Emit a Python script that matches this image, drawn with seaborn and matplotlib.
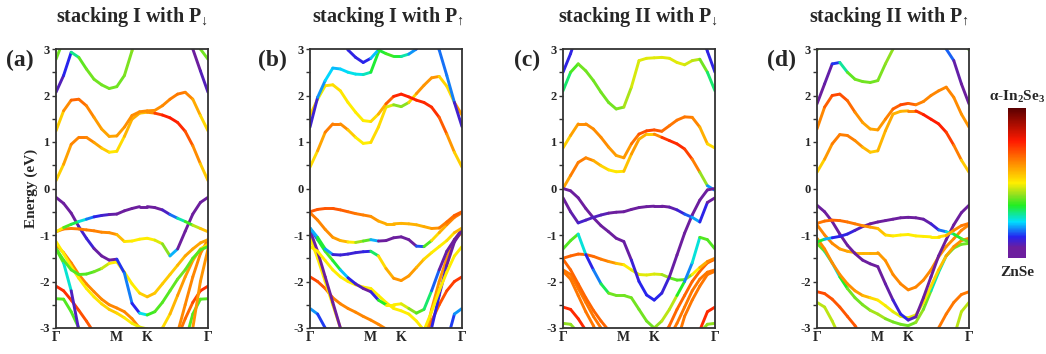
import numpy as np
import matplotlib
matplotlib.use('Agg')
import matplotlib.pyplot as plt
import seaborn as sns
from matplotlib.collections import LineCollection
from matplotlib.colors import LinearSegmentedColormap, Normalize
from matplotlib.cm import ScalarMappable

sns.set_style("ticks")
plt.rcParams.update({
    'font.family': ['Liberation Serif', 'DejaVu Serif'],
    'font.weight': 'bold',
    'mathtext.fontset': 'custom',
    'mathtext.rm': 'Liberation Serif:bold',
    'mathtext.bf': 'Liberation Serif:bold',
    'mathtext.it': 'Liberation Serif:italic',
})

# ── k-path sampling grid and labels ───────────────────────────────────────
K_GRID = [0.0, 0.05, 0.1, 0.15, 0.2, 0.25, 0.3, 0.35, 0.4, 0.45, 0.5,
          0.55, 0.6, 0.65, 0.7, 0.75, 0.8, 0.85, 0.9, 0.95, 1.0]
K_TICKS = [0.0, 0.4, 0.6, 1.0]
K_LABELS = ['Γ', 'M', 'K', 'Γ']
E_TICKS = [-3, -2, -1, 0, 1, 2, 3]
E_LABELS = ['-3', '-2', '-1', '0', '1', '2', '3']

TITLES = [r'stacking I with P$_{↓}$',
          r'stacking I with P$_{↑}$',
          r'stacking II with P$_{↓}$',
          r'stacking II with P$_{↑}$']
PANEL_TAGS = ['(a)', '(b)', '(c)', '(d)']

U, D = 3.6, -3.6   # off-window energies (clipped by the axes)

# ── band energies (eV) and projection weights (0 = ZnSe, 1 = In2Se3) ────
A_E = [
    [0.17, 0.52, 0.95, 1.10, 1.10, 0.99, 0.87, 0.78, 0.80, 1.12, 1.49, 1.62, 1.64, 1.62, 1.58, 1.52, 1.42, 1.23, 0.92, 0.53, 0.17],
    [1.24, 1.67, 1.90, 1.92, 1.78, 1.53, 1.28, 1.12, 1.13, 1.32, 1.57, 1.65, 1.67, 1.68, 1.78, 1.92, 2.03, 2.07, 1.92, 1.57, 1.24],
    [2.07, 2.43, 2.93, 2.82, 2.57, 2.35, 2.23, 2.15, 2.19, 2.43, 2.96, U, U, U, U, U, U, U, 3.0, 2.53, 2.07],
    [2.78, 3.2, U, U, U, U, U, U, U, U, U, U, U, U, U, U, U, U, U, 3.0, 2.78],
    [-2.10, -2.20, -2.40, -2.62, -2.85, -3.10, D, D, D, D, D, D, D, D, D, D, -3.20, -2.80, -2.45, -2.20, -2.10],
    [-2.37, -2.38, -2.65, -3.00, D, D, D, D, D, D, D, D, D, D, D, D, D, -3.30, -2.70, -2.38, -2.37],
    [-1.30, -1.60, -2.20, -3.05, D, D, D, D, D, D, D, D, D, D, D, D, D, D, -3.00, -2.00, -1.30],
    [-1.21, -1.38, -1.60, -1.85, -2.05, -2.22, -2.38, -2.50, -2.57, -2.65, -2.80, -3.00, -3.20, D, D, D, -3.10, -2.50, -1.90, -1.40, -1.10],
    [-1.14, -1.40, -1.68, -1.93, -2.15, -2.33, -2.48, -2.60, -2.68, -2.78, -2.90, -2.98, -3.02, -3.10, -3.00, -2.70, -2.30, -1.90, -1.55, -1.30, -1.20],
    [-1.29, -1.54, -1.75, -1.85, -1.84, -1.79, -1.72, -1.61, -1.58, -1.80, -2.05, -2.25, -2.33, -2.25, -2.05, -1.85, -1.65, -1.45, -1.30, -1.17, -1.10],
    [-0.19, -0.32, -0.53, -0.82, -1.07, -1.29, -1.45, -1.54, -1.52, -1.82, -2.47, -2.68, -2.72, -2.65, -2.45, -2.20, -1.95, -1.75, -1.50, -1.32, -1.25],
    [-0.93, -0.87, -0.86, -0.87, -0.89, -0.91, -0.94, -0.95, -0.99, -1.14, -1.13, -1.09, -1.07, -1.11, -1.19, -1.45, -1.30, -0.92, -0.55, -0.30, -0.19],
    [-0.93, -0.84, -0.77, -0.71, -0.66, -0.61, -0.58, -0.56, -0.55, -0.48, -0.43, -0.39, -0.39, -0.41, -0.46, -0.56, -0.64, -0.71, -0.79, -0.86, -0.93],
]
A_C = [
    [0.5, 0.58, 0.63, 0.65, 0.65, 0.62, 0.58, 0.52, 0.5, 0.55, 0.6, 0.58, 0.55, 0.7, 0.76, 0.78, 0.78, 0.74, 0.66, 0.6, 0.5],
    [0.5, 0.58, 0.68, 0.68, 0.66, 0.62, 0.6, 0.6, 0.6, 0.62, 0.63, 0.63, 0.63, 0.62, 0.63, 0.64, 0.66, 0.66, 0.62, 0.56, 0.5],
    [0.13, 0.06, 0.22, 0.38, 0.4, 0.4, 0.4, 0.4, 0.4, 0.4, 0.42, 0.42, 0.42, 0.4, 0.3, 0.2, 0.1, 0.06, 0.05, 0.06, 0.13],
    0.4,
    [0.76, 0.76, 0.74, 0.72, 0.7, 0.7, 0.7, 0.7, 0.7, 0.7, 0.7, 0.7, 0.7, 0.7, 0.7, 0.7, 0.66, 0.66, 0.7, 0.74, 0.76],
    0.38,
    [0.38, 0.38, 0.15, 0.05, 0.05, 0.05, 0.05, 0.05, 0.05, 0.05, 0.05, 0.05, 0.05, 0.05, 0.05, 0.62, 0.62, 0.62, 0.62, 0.62, 0.62],
    0.64,
    [0.5, 0.5, 0.5, 0.5, 0.5, 0.5, 0.52, 0.55, 0.55, 0.5, 0.5, 0.48, 0.48, 0.48, 0.5, 0.55, 0.6, 0.62, 0.6, 0.55, 0.5],
    [0.38, 0.38, 0.38, 0.38, 0.38, 0.38, 0.42, 0.5, 0.5, 0.5, 0.5, 0.5, 0.58, 0.55, 0.55, 0.55, 0.55, 0.6, 0.6, 0.6, 0.6],
    [0.03, 0.03, 0.04, 0.08, 0.14, 0.1, 0.05, 0.04, 0.05, 0.25, 0.13, 0.15, 0.35, 0.38, 0.38, 0.38, 0.4, 0.4, 0.38, 0.38, 0.38],
    [0.65, 0.65, 0.65, 0.65, 0.65, 0.65, 0.64, 0.63, 0.62, 0.52, 0.5, 0.5, 0.5, 0.5, 0.45, 0.38, 0.05, 0.03, 0.03, 0.03, 0.03],
    [0.62, 0.4, 0.36, 0.3, 0.22, 0.15, 0.12, 0.1, 0.06, 0.04, 0.04, 0.04, 0.04, 0.05, 0.08, 0.13, 0.23, 0.34, 0.4, 0.5, 0.62],
]

B_E = [
    [0.46, 0.81, 1.21, 1.39, 1.39, 1.26, 1.10, 0.97, 0.99, 1.32, 1.75, 1.80, 1.76, 1.85, 2.04, 2.22, 2.38, 2.41, 2.20, 1.85, 1.58],
    [1.57, 1.92, 2.21, 2.23, 2.10, 1.85, 1.64, 1.46, 1.44, 1.60, 1.82, 1.98, 2.03, 1.97, 1.90, 1.85, 1.75, 1.53, 1.17, 0.78, 0.46],
    [1.32, 1.96, 2.32, 2.59, 2.57, 2.50, 2.46, 2.45, 2.50, 2.93, 3.30, U, U, U, U, U, U, 2.98, 2.43, 1.85, 1.33],
    [U, U, U, U, 3.4, 2.98, 2.82, 2.71, 2.80, 2.98, 2.90, 2.84, 2.84, 2.89, 3.0, 3.4, U, U, U, U, U],
    [-2.58, -2.70, -3.00, -3.30, D, D, D, D, D, D, D, D, D, D, D, D, D, D, -3.30, -2.70, -2.58],
    [-1.90, -2.00, -2.15, -2.35, -2.48, -2.58, -2.66, -2.75, -2.83, -2.92, -3.02, -3.20, D, D, D, -3.20, -2.85, -2.50, -2.20, -2.00, -1.90],
    [-1.05, -1.50, -2.00, -2.50, -3.00, D, D, D, D, D, D, D, D, D, D, -3.30, -2.60, -2.00, -1.50, -1.10, -0.95],
    [-0.90, -1.35, -1.90, -2.45, -3.00, D, D, D, D, D, D, D, D, D, D, D, -3.00, -2.30, -1.65, -1.15, -0.90],
    [-1.25, -1.35, -1.55, -1.75, -1.90, -2.00, -2.07, -2.12, -2.15, -2.30, -2.45, -2.58, -2.63, -2.70, -2.85, -3.05, -2.65, -2.20, -1.80, -1.45, -1.25],
    [-0.85, -1.10, -1.35, -1.55, -1.75, -1.92, -2.05, -2.15, -2.22, -2.40, -2.50, -2.50, -2.48, -2.58, -2.68, -2.60, -2.20, -1.75, -1.35, -1.10, -0.88],
    [-0.85, -1.05, -1.30, -1.42, -1.43, -1.41, -1.38, -1.36, -1.35, -1.45, -1.72, -1.93, -1.98, -1.88, -1.70, -1.52, -1.38, -1.25, -1.12, -0.95, -0.85],
    [-0.52, -0.68, -0.88, -1.05, -1.12, -1.15, -1.16, -1.13, -1.10, -1.13, -1.12, -1.06, -1.04, -1.10, -1.24, -1.25, -1.12, -0.95, -0.78, -0.62, -0.52],
    [-0.50, -0.45, -0.43, -0.43, -0.46, -0.50, -0.54, -0.57, -0.60, -0.70, -0.76, -0.76, -0.75, -0.76, -0.78, -0.82, -0.86, -0.85, -0.72, -0.58, -0.50],
]
B_C = [
    [0.5, 0.55, 0.65, 0.65, 0.65, 0.6, 0.5, 0.5, 0.5, 0.55, 0.5, 0.45, 0.38, 0.45, 0.62, 0.62, 0.62, 0.62, 0.45, 0.6, 0.62],
    [0.62, 0.45, 0.52, 0.52, 0.52, 0.5, 0.5, 0.5, 0.5, 0.55, 0.62, 0.76, 0.77, 0.77, 0.77, 0.76, 0.76, 0.74, 0.65, 0.58, 0.5],
    [0.08, 0.15, 0.25, 0.22, 0.22, 0.25, 0.25, 0.25, 0.3, 0.38, 0.38, 0.38, 0.38, 0.38, 0.3, 0.15, 0.13, 0.12, 0.24, 0.14, 0.08],
    [0.13, 0.13, 0.13, 0.13, 0.13, 0.13, 0.13, 0.13, 0.15, 0.3, 0.38, 0.36, 0.32, 0.25, 0.15, 0.13, 0.13, 0.13, 0.13, 0.13, 0.13],
    [0.22, 0.18, 0.13, 0.13, 0.13, 0.13, 0.13, 0.13, 0.13, 0.13, 0.13, 0.13, 0.13, 0.13, 0.13, 0.13, 0.13, 0.13, 0.13, 0.18, 0.22],
    [0.74, 0.72, 0.68, 0.66, 0.64, 0.64, 0.64, 0.64, 0.64, 0.64, 0.64, 0.64, 0.64, 0.64, 0.64, 0.66, 0.68, 0.7, 0.72, 0.74, 0.74],
    [0.5, 0.5, 0.5, 0.5, 0.5, 0.5, 0.5, 0.5, 0.5, 0.5, 0.5, 0.5, 0.5, 0.5, 0.5, 0.62, 0.62, 0.62, 0.62, 0.62, 0.62],
    [0.05, 0.05, 0.05, 0.05, 0.05, 0.05, 0.05, 0.05, 0.05, 0.05, 0.05, 0.05, 0.05, 0.05, 0.05, 0.13, 0.13, 0.13, 0.08, 0.05, 0.05],
    0.5,
    [0.05, 0.3, 0.38, 0.38, 0.3, 0.15, 0.12, 0.08, 0.05, 0.2, 0.5, 0.5, 0.5, 0.45, 0.38, 0.38, 0.25, 0.1, 0.05, 0.05, 0.05],
    [0.05, 0.38, 0.3, 0.12, 0.12, 0.12, 0.12, 0.12, 0.14, 0.5, 0.55, 0.62, 0.62, 0.62, 0.6, 0.55, 0.5, 0.5, 0.5, 0.55, 0.6],
    [0.68, 0.64, 0.64, 0.62, 0.6, 0.55, 0.46, 0.4, 0.38, 0.05, 0.04, 0.04, 0.04, 0.05, 0.08, 0.25, 0.5, 0.55, 0.62, 0.65, 0.66],
    [0.7, 0.7, 0.7, 0.7, 0.7, 0.68, 0.66, 0.65, 0.64, 0.6, 0.58, 0.58, 0.58, 0.58, 0.58, 0.58, 0.6, 0.64, 0.66, 0.68, 0.7],
]

C_E = [
    [0.00, 0.28, 0.56, 0.66, 0.60, 0.49, 0.40, 0.36, 0.37, 0.74, 1.06, 1.17, 1.17, 1.10, 1.03, 0.96, 0.85, 0.63, 0.35, 0.06, -0.04],
    [0.87, 1.14, 1.39, 1.39, 1.28, 1.10, 0.89, 0.71, 0.66, 0.96, 1.17, 1.24, 1.26, 1.23, 1.35, 1.47, 1.54, 1.53, 1.32, 0.96, 0.87],
    [2.10, 2.50, 2.68, 2.53, 2.32, 2.07, 1.85, 1.71, 1.75, 2.18, 2.75, 2.80, 2.81, 2.82, 2.80, 2.71, 2.66, 2.75, 2.78, 2.50, 2.10],
    [2.50, 2.90, 3.40, U, U, U, U, U, U, U, U, U, U, U, U, U, U, U, 3.40, 2.95, 2.50],
    [-2.90, -2.92, -3.10, D, D, D, D, D, D, D, D, D, D, D, D, D, D, D, -3.10, -2.92, -2.90],
    [-2.55, -2.60, -2.80, -3.05, D, D, D, D, D, D, D, D, D, D, D, D, D, D, -3.05, -2.65, -2.55],
    [-1.78, -1.95, -2.30, -2.65, -2.95, -3.30, D, D, D, D, D, D, D, D, D, -3.30, -2.75, -2.40, -2.10, -1.85, -1.78],
    [-1.75, -1.85, -2.15, -2.45, -2.75, -3.00, -3.30, D, D, D, D, D, D, D, -3.20, -2.90, -2.55, -2.20, -1.95, -1.80, -1.75],
    [-1.52, -1.75, -2.05, -2.35, -2.62, -2.85, -3.05, D, D, D, D, D, D, -3.20, -2.95, -2.60, -2.30, -2.00, -1.78, -1.60, -1.52],
    [-1.50, -1.45, -1.41, -1.42, -1.46, -1.52, -1.57, -1.61, -1.64, -1.75, -1.85, -1.86, -1.84, -1.85, -1.92, -1.97, -1.96, -1.85, -1.70, -1.57, -1.50],
    [-1.30, -1.12, -0.98, -1.42, -1.75, -2.05, -2.25, -2.30, -2.30, -2.35, -2.60, -2.85, -3.00, -2.85, -2.60, -2.30, -2.00, -1.60, -1.05, -1.10, -1.30],
    [0.00, -0.05, -0.20, -0.43, -0.63, -0.80, -0.93, -1.07, -1.14, -1.54, -2.00, -2.29, -2.40, -2.25, -1.90, -1.43, -0.96, -0.57, -0.25, -0.03, 0.00],
    [-0.20, -0.50, -0.74, -0.68, -0.62, -0.57, -0.53, -0.51, -0.50, -0.45, -0.41, -0.39, -0.38, -0.38, -0.40, -0.46, -0.55, -0.62, -0.72, -0.30, -0.20],
]
C_C = [
    [0.55, 0.65, 0.65, 0.65, 0.62, 0.55, 0.52, 0.5, 0.52, 0.6, 0.62, 0.55, 0.55, 0.72, 0.76, 0.76, 0.76, 0.7, 0.6, 0.25, 0.15],
    [0.5, 0.58, 0.63, 0.63, 0.63, 0.63, 0.63, 0.6, 0.6, 0.63, 0.7, 0.72, 0.72, 0.68, 0.66, 0.66, 0.66, 0.66, 0.62, 0.55, 0.5],
    [0.28, 0.35, 0.4, 0.4, 0.4, 0.4, 0.4, 0.4, 0.42, 0.46, 0.48, 0.48, 0.48, 0.48, 0.48, 0.48, 0.48, 0.45, 0.45, 0.35, 0.28],
    0.13,
    0.42,
    0.76,
    0.66,
    0.66,
    0.68,
    [0.68, 0.68, 0.68, 0.68, 0.68, 0.66, 0.64, 0.6, 0.52, 0.48, 0.48, 0.48, 0.48, 0.46, 0.4, 0.38, 0.38, 0.45, 0.55, 0.62, 0.66],
    [0.38, 0.38, 0.38, 0.14, 0.13, 0.25, 0.4, 0.4, 0.4, 0.4, 0.4, 0.4, 0.4, 0.45, 0.45, 0.45, 0.25, 0.14, 0.38, 0.38, 0.38],
    [0.04, 0.04, 0.04, 0.04, 0.04, 0.04, 0.04, 0.04, 0.05, 0.1, 0.14, 0.14, 0.14, 0.14, 0.1, 0.05, 0.04, 0.04, 0.04, 0.04, 0.04],
    [0.05, 0.05, 0.12, 0.1, 0.1, 0.1, 0.08, 0.06, 0.05, 0.05, 0.05, 0.05, 0.05, 0.05, 0.07, 0.1, 0.14, 0.2, 0.22, 0.05, 0.05],
]

D_E = [
    [0.35, 0.63, 0.96, 1.16, 1.14, 1.03, 0.89, 0.78, 0.81, 1.24, 1.60, 1.66, 1.67, 1.67, 1.59, 1.49, 1.39, 1.21, 0.93, 0.61, 0.35],
    [1.28, 1.75, 2.00, 2.03, 1.89, 1.64, 1.42, 1.28, 1.26, 1.49, 1.71, 1.80, 1.83, 1.80, 1.87, 2.00, 2.10, 2.18, 1.96, 1.60, 1.32],
    [1.82, 2.25, 2.68, 2.71, 2.50, 2.35, 2.30, 2.28, 2.32, 2.68, 3.00, 3.40, U, U, U, U, 3.40, 3.00, 2.75, 2.25, 1.82],
    [2.98, 3.30, U, U, U, U, U, U, U, U, U, U, U, U, U, U, U, U, U, 3.30, 2.98],
    [-2.45, -2.55, -2.85, -3.20, D, D, D, D, D, D, D, D, D, D, D, D, D, D, -3.20, -2.65, -2.45],
    [-2.22, -2.26, -2.38, -2.55, -2.75, -2.95, -3.20, D, D, D, D, D, D, D, D, -3.30, -3.00, -2.70, -2.45, -2.28, -2.22],
    [-1.18, -1.35, -1.60, -1.90, -2.15, -2.35, -2.50, -2.62, -2.70, -2.80, -2.87, -2.92, -2.95, -2.88, -2.60, -2.20, -1.80, -1.45, -1.28, -1.20, -1.18],
    [-1.07, -1.30, -1.60, -1.85, -2.05, -2.20, -2.30, -2.35, -2.40, -2.52, -2.65, -2.75, -2.78, -2.72, -2.45, -2.10, -1.75, -1.45, -1.25, -1.12, -1.07],
    [-0.78, -1.00, -1.18, -1.30, -1.35, -1.38, -1.38, -1.38, -1.38, -1.55, -1.85, -2.05, -2.18, -2.12, -1.97, -1.75, -1.47, -1.25, -1.08, -0.90, -0.78],
    [-0.36, -0.50, -0.71, -0.98, -1.22, -1.40, -1.54, -1.62, -1.68, -2.05, -2.40, -2.70, -2.83, -2.76, -2.35, -1.90, -1.45, -1.10, -0.78, -0.52, -0.36],
    [-1.15, -1.09, -1.06, -1.03, -0.98, -0.90, -0.82, -0.76, -0.72, -0.69, -0.66, -0.63, -0.62, -0.63, -0.66, -0.76, -0.89, -0.93, -0.98, -1.08, -1.15],
    [-0.75, -0.70, -0.68, -0.69, -0.72, -0.76, -0.80, -0.83, -0.86, -1.00, -1.02, -1.00, -0.99, -1.02, -1.03, -1.04, -1.04, -1.01, -0.90, -0.80, -0.75],
]
D_C = [
    [0.5, 0.58, 0.65, 0.65, 0.65, 0.65, 0.6, 0.55, 0.55, 0.6, 0.58, 0.58, 0.58, 0.7, 0.78, 0.78, 0.78, 0.76, 0.7, 0.6, 0.5],
    [0.62, 0.66, 0.72, 0.72, 0.7, 0.65, 0.6, 0.6, 0.6, 0.63, 0.66, 0.72, 0.72, 0.65, 0.64, 0.64, 0.64, 0.64, 0.64, 0.62, 0.62],
    [0.06, 0.06, 0.1, 0.2, 0.38, 0.4, 0.4, 0.4, 0.4, 0.42, 0.42, 0.42, 0.4, 0.4, 0.4, 0.35, 0.28, 0.25, 0.1, 0.06, 0.06],
    0.4,
    0.45,
    [0.72, 0.72, 0.7, 0.7, 0.7, 0.7, 0.7, 0.7, 0.7, 0.7, 0.7, 0.7, 0.7, 0.7, 0.7, 0.66, 0.66, 0.66, 0.66, 0.66, 0.66],
    [0.4, 0.38, 0.22, 0.3, 0.4, 0.4, 0.4, 0.42, 0.45, 0.42, 0.4, 0.4, 0.4, 0.4, 0.45, 0.35, 0.22, 0.35, 0.4, 0.4, 0.4],
    [0.63, 0.63, 0.63, 0.63, 0.63, 0.63, 0.6, 0.55, 0.5, 0.5, 0.48, 0.48, 0.48, 0.48, 0.5, 0.52, 0.55, 0.58, 0.62, 0.63, 0.63],
    [0.64, 0.64, 0.64, 0.62, 0.6, 0.58, 0.58, 0.58, 0.6, 0.62, 0.63, 0.64, 0.64, 0.64, 0.64, 0.63, 0.62, 0.62, 0.63, 0.64, 0.64],
    [0.04, 0.04, 0.04, 0.04, 0.04, 0.04, 0.04, 0.04, 0.05, 0.06, 0.1, 0.14, 0.14, 0.06, 0.05, 0.04, 0.04, 0.04, 0.04, 0.04, 0.04],
    [0.4, 0.28, 0.15, 0.13, 0.13, 0.12, 0.08, 0.05, 0.05, 0.05, 0.05, 0.05, 0.05, 0.05, 0.06, 0.1, 0.14, 0.22, 0.3, 0.38, 0.4],
    [0.66, 0.66, 0.68, 0.68, 0.66, 0.66, 0.64, 0.62, 0.58, 0.55, 0.5, 0.5, 0.5, 0.5, 0.5, 0.5, 0.5, 0.55, 0.62, 0.65, 0.66],
]

PANELS = [(A_E, A_C), (B_E, B_C), (C_E, C_C), (D_E, D_C)]

CMAP = LinearSegmentedColormap.from_list('proj', [
    (0.00, '#6c1e9e'), (0.07, '#6c1e9e'), (0.14, '#2424f0'), (0.24, '#00e0ff'),
    (0.35, '#22ee22'), (0.42, '#90e020'), (0.50, '#ffee00'), (0.62, '#ff9500'),
    (0.78, '#ff1a00'), (1.00, '#5a0000')])
NORM = Normalize(0, 1)


def draw_bands(ax, energies, weights):
    k = np.asarray(K_GRID)
    for i, (e, c) in enumerate(zip(energies, weights)):
        e = np.asarray(e, float)
        if len(e) != len(k):
            raise ValueError(f"band {i}: {len(e)} points")
        c = np.broadcast_to(np.asarray(c, float), e.shape)
        pts = np.column_stack([k, e])
        segs = np.stack([pts[:-1], pts[1:]], axis=1)
        lc = LineCollection(segs, cmap=CMAP, norm=NORM, linewidths=2.1,
                            capstyle='round')
        lc.set_array((c[:-1] + c[1:]) / 2)
        ax.add_collection(lc)


fig = plt.figure(figsize=(10.46, 3.54), dpi=100)
lefts = [56, 310, 563, 817]
tag_x = [20, 272, 527, 782]
title_x = [132, 388, 638, 889]
W, H = 1046, 354

for p, ((energies, weights), left) in enumerate(zip(PANELS, lefts)):
    ax = fig.add_axes([left / W, (H - 328) / H, 152 / W, 279 / H])
    draw_bands(ax, energies, weights)
    ax.set_xlim(0, 1)
    ax.set_ylim(-3, 3)
    ax.set_xticks(K_TICKS)
    ax.set_xticklabels(K_LABELS, fontsize=10, fontweight='bold')
    ax.tick_params(axis='x', length=0, pad=2.5)
    ax.set_yticks(E_TICKS)
    ax.set_yticklabels(E_LABELS, fontsize=9, fontweight='bold')
    ax.set_yticks(np.arange(-2.5, 3, 1.0), minor=True)
    ax.tick_params(axis='y', which='both', direction='out', length=3, width=1,
                   pad=1.5, color='#333333')
    for s in ax.spines.values():
        s.set_linewidth(1.3)
        s.set_color('#333333')
    if p == 0:
        ax.set_ylabel('Energy (eV)', fontsize=11, fontweight='bold', labelpad=1)
    fig.text(title_x[p] / W, 1 - 17 / H, TITLES[p], fontsize=14.5,
             fontweight='bold', ha='center', va='center')
    fig.text(tag_x[p] / W, 1 - 60 / H, PANEL_TAGS[p], fontsize=17,
             fontweight='bold', ha='center', va='center')

# ── colour bar ────────────────────────────────────────────────────────────
cax = fig.add_axes([1008 / W, (H - 258) / H, 18 / W, 150 / H])
cb = fig.colorbar(ScalarMappable(norm=NORM, cmap=CMAP), cax=cax)
cb.set_ticks([])
cb.outline.set_visible(False)
fig.text(1017 / W, 1 - 97 / H, r'α-In$_\mathbf{2}$Se$_\mathbf{3}$', fontsize=11,
         fontweight='bold', ha='center', va='center')
fig.text(1017 / W, 1 - 272 / H, 'ZnSe', fontsize=11, fontweight='bold',
         ha='center', va='center')

fig.savefig('out.png', dpi=100)
